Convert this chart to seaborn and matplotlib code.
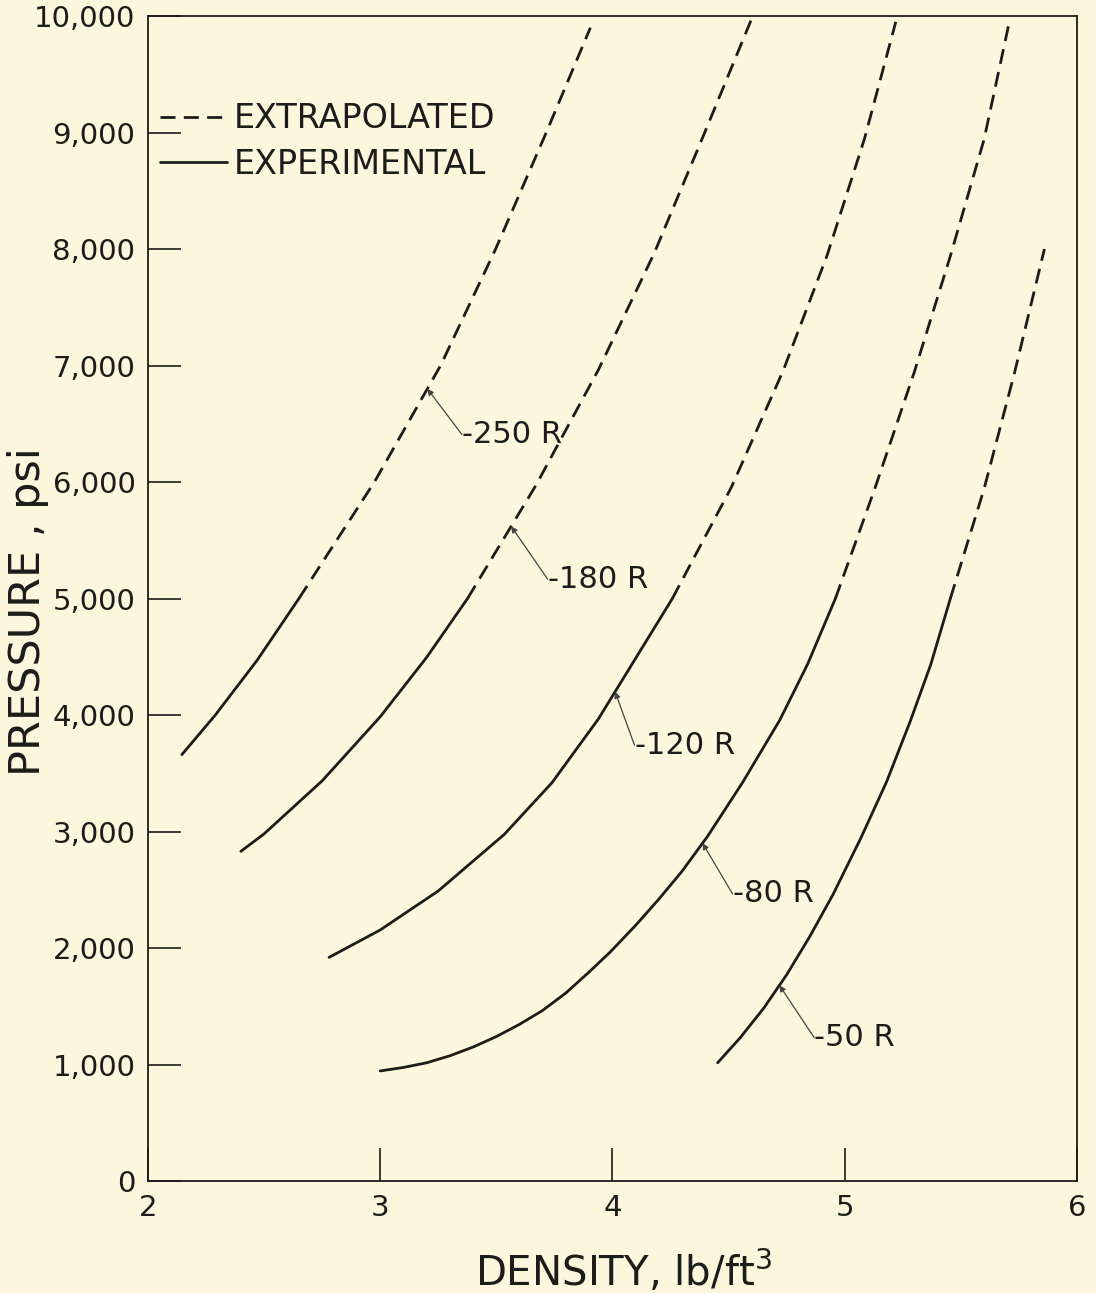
import numpy as np
import pandas as pd
import matplotlib
matplotlib.use("Agg")
import matplotlib.pyplot as plt
import seaborn as sns
from matplotlib.lines import Line2D

# ---------------- data ----------------
curve_labels = ["250 R", "180 R", "120 R", "80 R", "50 R"]

density_250 = [2.146, 2.29, 2.47, 2.65, 2.975, 3.26, 3.497, 3.715, 3.905]
pressure_250 = [3660, 4000, 4470, 5000, 6000, 7000, 8000, 9000, 9900]

density_180 = [2.40, 2.50, 2.75, 3.0, 3.2, 3.376, 3.67, 3.94, 4.18, 4.389, 4.596]
pressure_180 = [2830, 2980, 3435, 3985, 4495, 5000, 5970, 6965, 7965, 8960, 9960]

density_120 = [2.78, 3.0, 3.25, 3.534, 3.74, 3.939, 4.258, 4.512, 4.735, 4.925, 5.085, 5.22]
pressure_120 = [1920, 2155, 2490, 2975, 3420, 3965, 5000, 5955, 6955, 7950, 8945, 9950]

density_80 = [3.0, 3.1, 3.2, 3.3, 3.4, 3.5, 3.6, 3.7, 3.8, 3.9, 3.99, 4.1, 4.2, 4.3,
              4.41, 4.56, 4.72, 4.84, 4.96, 5.13, 5.30, 5.455, 5.60, 5.71]
pressure_80 = [945, 975, 1015, 1075, 1150, 1240, 1345, 1465, 1615, 1795, 1965, 2195,
               2420, 2660, 2960, 3420, 3955, 4435, 5000, 5945, 6945, 7940, 8940, 9960]

density_50 = [4.453, 4.55, 4.65, 4.75, 4.85, 4.95, 5.071, 5.18, 5.282, 5.37, 5.455,
              5.60, 5.731, 5.86]
pressure_50 = [1015, 1230, 1480, 1770, 2100, 2460, 2950, 3425, 3945, 4430, 5000,
               5940, 6935, 8000]

experimental_limit = 5000          # above this pressure the curves are extrapolated
arrow_pressures = [6800, 5620, 4200, 2900, 1680]   # where each label arrow touches its curve

x_ticks = [2, 3, 4, 5, 6]
x_tick_labels = ["2", "3", "4", "5", "6"]
y_ticks = [0, 1000, 2000, 3000, 4000, 5000, 6000, 7000, 8000, 9000, 10000]
y_tick_labels = ["0", "1,000", "2,000", "3,000", "4,000", "5,000", "6,000",
                 "7,000", "8,000", "9,000", "10,000"]
legend_labels = ["EXTRAPOLATED", "EXPERIMENTAL"]

# ---------------- build long table ----------------
densities = [density_250, density_180, density_120, density_80, density_50]
pressures = [pressure_250, pressure_180, pressure_120, pressure_80, pressure_50]

rows = []
for lab, dens, pres in zip(curve_labels, densities, pressures):
    for d, p in zip(dens, pres):
        if p <= experimental_limit:
            rows.append((lab, lab + " exp", "EXPERIMENTAL", d, p))
        if p >= experimental_limit:
            rows.append((lab, lab + " ext", "EXTRAPOLATED", d, p))
df = pd.DataFrame(rows, columns=["curve", "segment", "kind", "density", "pressure"])

# ---------------- style ----------------
bg = "#fcf6dc"
ink = "#1c1c1a"
sns.set_style("white", rc={"axes.facecolor": bg, "figure.facecolor": bg,
                           "axes.edgecolor": ink,
                           "xtick.bottom": True, "ytick.left": True})
plt.rcParams["font.family"] = ["DejaVu Sans"]
plt.rcParams["mathtext.fontset"] = "dejavusans"
plt.rcParams["text.color"] = ink

fig = plt.figure(figsize=(10.96, 12.93), dpi=100)
ax = fig.add_axes([0.135, 0.0866, 0.8476, 0.901])

dash_pat = (5.4, 3.0)
sns.lineplot(data=df, x="density", y="pressure", units="segment", estimator=None,
             style="kind", style_order=["EXTRAPOLATED", "EXPERIMENTAL"],
             dashes={"EXTRAPOLATED": dash_pat, "EXPERIMENTAL": ""},
             color=ink, linewidth=2.0, sort=False, legend=False, ax=ax)

ax.set_xlim(2, 6)
ax.set_ylim(0, 10000)
ax.set_xticks(x_ticks, x_tick_labels)
ax.set_yticks(y_ticks, y_tick_labels)
ax.tick_params(axis="both", direction="in", length=24, width=1.2, colors=ink,
               labelsize=21, labelcolor=ink, bottom=True, left=True)
ax.tick_params(axis="x", pad=9)
ax.tick_params(axis="y", pad=9)
for s in ax.spines.values():
    s.set_linewidth(1.3)
    s.set_color(ink)

ax.set_xlabel("DENSITY, lb/ft$^3$", fontsize=29, color=ink)
ax.set_ylabel("PRESSURE , psi", fontsize=31, color=ink)
ax.xaxis.set_label_coords(0.512, -0.058)
ax.yaxis.set_label_coords(-0.106, 0.489)

# legend
handles = [Line2D([], [], color=ink, lw=2.0, linestyle=(0, dash_pat)),
           Line2D([], [], color=ink, lw=2.0)]
ax.legend(handles, legend_labels, loc="upper left", bbox_to_anchor=(0.013, 0.926),
          frameon=False, fontsize=24, handlelength=2.0, handletextpad=0.2,
          labelspacing=0.38, borderaxespad=0, borderpad=0)

# curve labels with leader arrows
label_pos = [(3.352, 6408), (3.721, 5166), (4.095, 3741), (4.517, 2465), (4.869, 1230)]
for lab, dens, pres, pa, (tx, ty) in zip(curve_labels, densities, pressures,
                                        arrow_pressures, label_pos):
    xa = np.interp(pa, pres, dens)
    ax.annotate("-" + lab, xy=(xa, pa), xytext=(tx, ty), ha="left", va="center",
                fontsize=22, color=ink,
                arrowprops=dict(arrowstyle="-|>", color="#444444", lw=0.9,
                                mutation_scale=9, shrinkA=0, shrinkB=0,
                                relpos=(0, 0.5), patchA=None))

fig.savefig("out.png", dpi=100, facecolor=bg)
